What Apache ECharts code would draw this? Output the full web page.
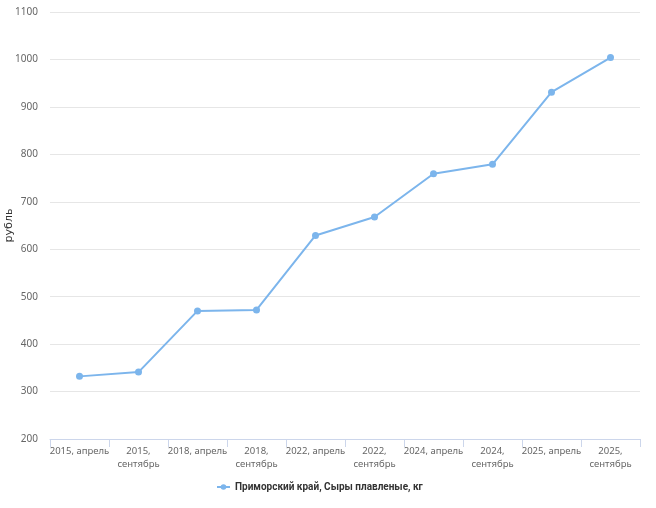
<!DOCTYPE html>
<html>
<head>
<meta charset="utf-8">
<script src="https://cdn.jsdelivr.net/npm/echarts@6/dist/echarts.min.js"></script>
<style>
  html, body { margin: 0; padding: 0; background: #fff; }
  #chart { width: 656px; height: 508px; }
</style>
</head>
<body>
<div id="chart"></div>
<script>
// категории и значения
var categories = ['2015, апрель', '2015,\nсентябрь', '2018, апрель', '2018,\nсентябрь', '2022, апрель',
  '2022,\nсентябрь', '2024, апрель', '2024,\nсентябрь', '2025, апрель', '2025,\nсентябрь']
var prices = [332, 341, 470, 472, 629, 668, 759, 779, 931, 1004]
var seriesName = 'Приморский край, Сыры плавленые, кг'

var myChart = echarts.init(document.getElementById('chart'))
myChart.setOption({
  animation: false,
  grid: {
    left: 50,
    right: 16,
    top: 12,
    bottom: 69,
    containLabel: false,
    outerBoundsMode: 'none'
  },
  legend: {
    data: [seriesName],
    bottom: 11,
    left: 211,
    itemWidth: 13,
    itemHeight: 7,
    itemGap: 3,
    textStyle: { color: '#333', fontSize: 10, fontWeight: 'bold', fontFamily: 'Roboto' }
  },
  xAxis: {
    type: 'category',
    data: categories,
    boundaryGap: true,
    axisLine: { lineStyle: { color: '#ccd6eb' } },
    axisTick: { show: true, length: 8, lineStyle: { color: '#ccd6eb' } },
    axisLabel: {
      interval: 0,
      color: '#666',
      fontSize: 9.5,
      fontFamily: 'Noto Sans',
      lineHeight: 13,
      margin: 6
    }
  },
  yAxis: {
    type: 'value',
    min: 200,
    max: 1100,
    interval: 100,
    name: 'рубль',
    nameLocation: 'middle',
    nameGap: 35,
    nameRotate: 90,
    nameMoveOverlap: false,
    nameTextStyle: { color: '#333', fontSize: 11, fontFamily: 'DejaVu Sans' },
    axisLine: { show: false },
    axisTick: { show: false },
    axisLabel: {
      color: '#666',
      fontSize: 10,
      fontFamily: 'Noto Sans',
      margin: 12,
      formatter: function (v) { return String(v) }
    },
    splitLine: { lineStyle: { color: '#e6e6e6' } }
  },
  series: [
    {
      name: seriesName,
      type: 'line',
      data: prices,
      color: '#7cb5ec',
      symbol: 'circle',
      symbolSize: 7,
      lineStyle: { width: 2 }
    }
  ]
})
</script>
</body>
</html>
